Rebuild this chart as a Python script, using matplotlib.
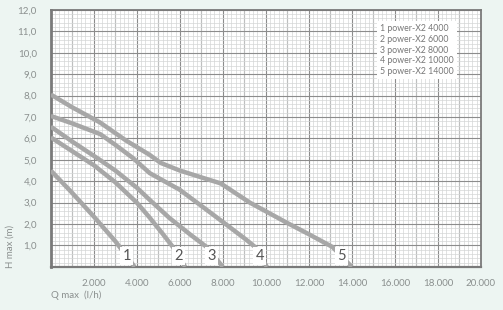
import numpy as np
import matplotlib.pyplot as plt
from matplotlib.ticker import MultipleLocator, FixedLocator

# Kennlinien (Q in l/h, H in m)
q1 = [0, 1000, 2000, 3000, 3900]
h1 = [4.5, 3.45, 2.35, 1.2, 0.0]

q2 = [0, 1000, 2000, 3000, 4000, 4600, 5200, 5700, 6250]
h2 = [6.05, 5.4, 4.75, 3.95, 3.0, 2.3, 1.55, 0.9, 0.0]

q3 = [0, 1000, 2280, 3000, 4000, 4600, 5500, 6500, 7250, 8000]
h3 = [6.55, 5.85, 5.0, 4.5, 3.7, 3.13, 2.3, 1.5, 0.93, 0.0]

q4 = [0, 1000, 2300, 3000, 3800, 4600, 6000, 7000, 8000, 9100, 9500, 10050]
h4 = [7.05, 6.7, 6.2, 5.7, 5.1, 4.38, 3.6, 2.85, 2.1, 1.26, 0.93, 0.0]

q5 = [0, 1000, 2280, 3500, 4600, 5100, 6000, 7100, 7900, 9260, 11000, 11900, 13100, 14000]
h5 = [8.05, 7.45, 6.75, 5.9, 5.23, 4.86, 4.5, 4.15, 3.9, 3.0, 2.05, 1.58, 0.93, 0.0]

curves = [(q1, h1), (q2, h2), (q3, h3), (q4, h4), (q5, h5)]
nummern = ["1", "2", "3", "4", "5"]
label_q = [3530, 5950, 7490, 9720, 13530]
label_h = 0.5

modelle = ["1 power-X2 4000", "2 power-X2 6000", "3 power-X2 8000",
           "4 power-X2 10000", "5 power-X2 14000"]

x_ticks = [2000, 4000, 6000, 8000, 10000, 12000, 14000, 16000, 18000, 20000]
x_labels = ["2.000", "4.000", "6.000", "8.000", "10.000", "12.000",
            "14.000", "16.000", "18.000", "20.000"]
y_ticks = [1, 2, 3, 4, 5, 6, 7, 8, 9, 10, 11, 12]
y_labels = [f"{v},0" for v in y_ticks]

bg = "#edf5f2"
txt = "#8a8f8e"
plt.rcParams["font.family"] = ["Lato", "DejaVu Sans"]

fig = plt.figure(figsize=(5.03, 3.10), dpi=100, facecolor=bg)
ax = fig.add_axes([0.101, 0.139, 0.855, 0.829])
ax.set_facecolor("white")

ax.set_xlim(0, 20000)
ax.set_ylim(0, 12)

ax.xaxis.set_major_locator(MultipleLocator(1000))
ax.xaxis.set_minor_locator(MultipleLocator(200))
ax.yaxis.set_major_locator(MultipleLocator(1))
ax.yaxis.set_minor_locator(MultipleLocator(0.2))
ax.grid(which="minor", color="#d4d6d6", linewidth=0.5)
ax.grid(which="major", color="#8c8c8c", linewidth=0.8)
ax.set_axisbelow(True)

# Beschriftung nur auf jedem zweiten Tausender
ax.set_xticks(x_ticks, labels=x_labels, minor=False)
ax.xaxis.set_minor_locator(MultipleLocator(200))
ax.set_yticks(y_ticks, labels=y_labels)
for v in range(1000, 20000, 2000):
    ax.axvline(v, color="#8c8c8c", linewidth=0.8, zorder=0.5)
ax.tick_params(which="both", length=0)
ax.tick_params(axis="x", pad=9, labelsize=7, labelcolor=txt)
ax.tick_params(axis="y", pad=10, labelsize=7, labelcolor=txt)

for s in ax.spines.values():
    s.set_color("#7a7a7a")
    s.set_linewidth(1.3)
ax.spines["left"].set_linewidth(2)
ax.spines["bottom"].set_linewidth(1.6)

for (q, h), n, lq in zip(curves, nummern, label_q):
    ax.plot(q, h, color="#a7a7a7", linewidth=3.2, solid_capstyle="butt",
            solid_joinstyle="round", zorder=3)
    ax.text(lq, label_h, n, fontsize=10.5, color="#555555", ha="center",
            va="center", zorder=4,
            bbox=dict(boxstyle="square,pad=0.15", fc="white", ec="none"))

ax.text(0.765, 0.945, "\n".join(modelle), transform=ax.transAxes,
        fontsize=6.3, color="#777777", va="top", ha="left", linespacing=1.25,
        zorder=4, bbox=dict(boxstyle="square,pad=0.35", fc="white", ec="none"))

fig.text(0.101, 0.04, "Q max  (l/h)", fontsize=7, color=txt, ha="left")
fig.text(0.012, 0.135, "H max (m)", fontsize=7, color=txt, rotation=90,
         va="bottom")

fig.savefig("out.png", dpi=100, facecolor=bg)
